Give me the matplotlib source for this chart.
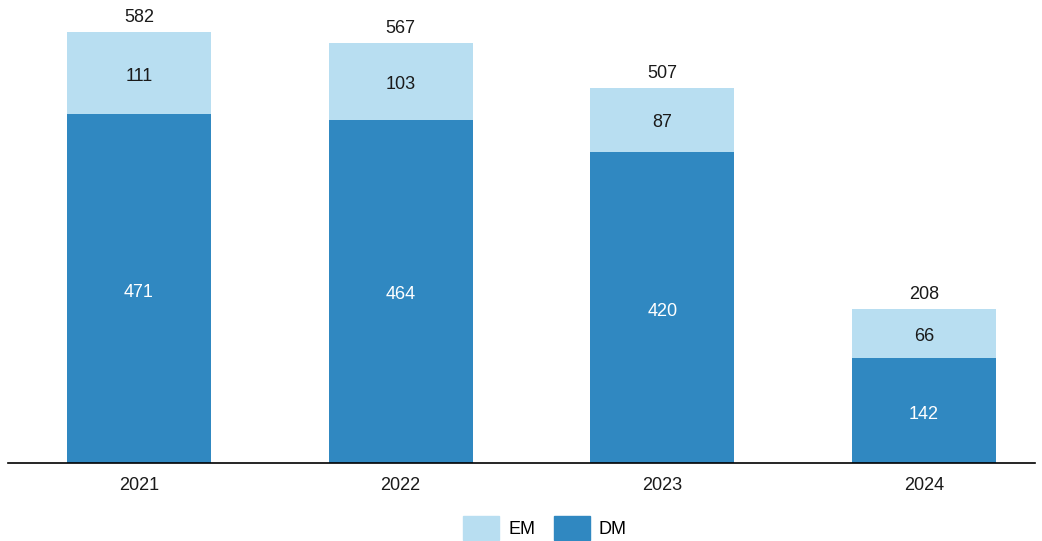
import numpy as np
import matplotlib.pyplot as plt
from matplotlib.patches import Patch

plt.rcParams['font.family'] = ['Liberation Sans', 'DejaVu Sans']

years = ["2021", "2022", "2023", "2024"]
dm = [471, 464, 420, 142]
em = [111, 103, 87, 66]
totals = [582, 567, 507, 208]

dm_color = "#3088c1"
em_color = "#b8def1"

fig = plt.figure(figsize=(10.42, 5.41), dpi=100)
ax = fig.add_axes([8/1042, 78/541, 1027/1042, 453/541])

x = np.arange(len(years))
w = 0.55
ax.bar(x, dm, w, color=dm_color)
ax.bar(x, em, w, bottom=dm, color=em_color)

for i in range(len(years)):
    ax.text(x[i], dm[i] / 2 - 5, str(dm[i]), ha="center", va="center", color="white", fontsize=13)
    ax.text(x[i], dm[i] + em[i] / 2 - 4, str(em[i]), ha="center", va="center", color="#1a1a1a", fontsize=13)
    ax.text(x[i], totals[i] + 8, str(totals[i]), ha="center", va="bottom", color="#1a1a1a", fontsize=13)

ax.set_xlim(-0.5, 3.424)
ax.set_ylim(0, 612)
for s in ["top", "right", "left"]:
    ax.spines[s].set_visible(False)
ax.spines["bottom"].set_linewidth(1.2)
ax.set_yticks([])
ax.set_xticks(x)
ax.set_xticklabels(years, fontsize=13, color="#1a1a1a")
ax.tick_params(axis="x", length=0, pad=10)

handles = [Patch(color=em_color, label="EM"), Patch(color=dm_color, label="DM")]
fig.legend(handles=handles, loc="center", bbox_to_anchor=(545/1042, 1 - 528/541), ncol=2,
           frameon=False, fontsize=13, handlelength=2.0, handleheight=1.6, columnspacing=1.0,
           handletextpad=0.5)

fig.savefig("out.png", dpi=100)
